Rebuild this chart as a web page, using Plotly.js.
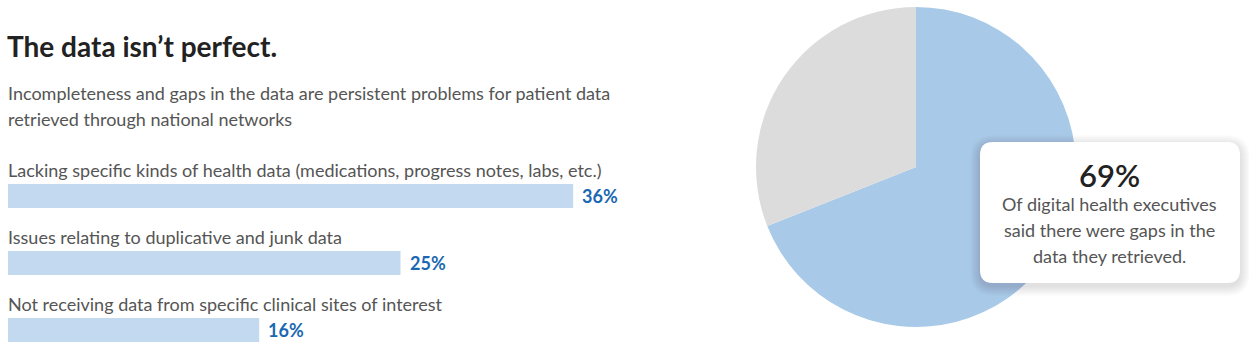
<!DOCTYPE html>
<html>
<head>
<meta charset="utf-8">
<script src="https://cdn.plot.ly/plotly-3.0.1.min.js"></script>
<style>html,body{margin:0;padding:0;background:#fff;}#chart{width:1249px;height:355px;}</style>
</head>
<body>
<div id="chart"></div>
<script>
// ---- data ----
const categories = [
  "Lacking specific kinds of health data (medications, progress notes, labs, etc.)",
  "Issues relating to duplicative and junk data",
  "Not receiving data from specific clinical sites of interest"
];
const barValues = [36, 25, 16];
const barLabels = ["36%", "25%", "16%"];
const pieLabels = ["Gaps in data", "No gaps"];
const pieValues = [69, 31];
const titleText = "The data isn’t perfect.";
const subtitleLines = [
  "Incompleteness and gaps in the data are persistent problems for patient data",
  "retrieved through national networks"
];
const calloutValue = "69%";
const calloutLines = [
  "Of digital health executives",
  "said there were gaps in the",
  "data they retrieved."
];

// ---- layout helpers ----
const W = 1249, H = 355;
const px = x => x / W;
const py = y => 1 - y / H;
const FONT = "Lato, 'Open Sans', sans-serif";

function roundRect(x0, y0, x1, y1, r) {
  const X = v => px(v).toFixed(5), Y = v => py(v).toFixed(5);
  return `M ${X(x0 + r)} ${Y(y0)} L ${X(x1 - r)} ${Y(y0)} Q ${X(x1)} ${Y(y0)} ${X(x1)} ${Y(y0 + r)} ` +
         `L ${X(x1)} ${Y(y1 - r)} Q ${X(x1)} ${Y(y1)} ${X(x1 - r)} ${Y(y1)} ` +
         `L ${X(x0 + r)} ${Y(y1)} Q ${X(x0)} ${Y(y1)} ${X(x0)} ${Y(y1 - r)} ` +
         `L ${X(x0)} ${Y(y0 + r)} Q ${X(x0)} ${Y(y0)} ${X(x0 + r)} ${Y(y0)} Z`;
}

const traces = [
  {
    type: "bar",
    orientation: "h",
    x: barValues,
    y: categories,
    marker: {color: "#c2d9ef"},
    width: 0.36,
    hoverinfo: "none",
    xaxis: "x", yaxis: "y"
  },
  {
    type: "pie",
    labels: pieLabels,
    values: pieValues,
    sort: false,
    direction: "clockwise",
    rotation: 0,
    marker: {colors: ["#a8cae8", "#dcdcdc"], line: {width: 0}},
    textinfo: "none",
    hoverinfo: "none",
    domain: {x: [px(756), px(1076)], y: [py(327), py(7)]}
  }
];

const shapes = [];
// soft shadow layers
for (let i = 10; i >= 1; i--) {
  shapes.push({
    type: "path", xref: "paper", yref: "paper",
    path: roundRect(980 - i, 142 - i + 3, 1240 + i, 283 + i + 3, 13 + i),
    fillcolor: "rgba(0,0,0,0.012)", line: {width: 0}, layer: "above"
  });
}
shapes.push({
  type: "path", xref: "paper", yref: "paper",
  path: roundRect(980, 142, 1240, 283, 13),
  fillcolor: "#ffffff", line: {width: 0}, layer: "above"
});

const annotations = [];
// subtitle
subtitleLines.forEach((t, i) => annotations.push({
  text: t, xref: "paper", yref: "paper", x: px(6), y: py(93 + 26 * i),
  xanchor: "left", yanchor: "middle", showarrow: false,
  font: {family: FONT, size: 18, color: "#555555"}
}));
// bar category labels and value labels
categories.forEach((c, i) => {
  annotations.push({
    text: c, xref: "paper", yref: "y", x: px(6), y: c, yshift: 26,
    xanchor: "left", yanchor: "middle", showarrow: false,
    font: {family: FONT, size: 18, color: "#555555"}
  });
  annotations.push({
    text: "<b>" + barLabels[i] + "</b>", xref: "x", yref: "y", x: barValues[i], y: c, xshift: 7,
    xanchor: "left", yanchor: "middle", showarrow: false,
    font: {family: FONT, size: 18, color: "#1a68b2"}
  });
});
// callout
annotations.push({
  text: calloutValue, xref: "paper", yref: "paper", x: px(1109), y: py(175),
  xanchor: "center", yanchor: "middle", showarrow: false,
  font: {family: FONT, size: 31, color: "#222222", weight: 600}
});
calloutLines.forEach((t, i) => annotations.push({
  text: t, xref: "paper", yref: "paper", x: px(1109), y: py(204 + 26 * i),
  xanchor: "center", yanchor: "middle", showarrow: false,
  font: {family: FONT, size: 18, color: "#555555"}
}));

const layout = {
  width: W, height: H,
  margin: {l: 0, r: 0, t: 0, b: 0},
  paper_bgcolor: "#ffffff", plot_bgcolor: "rgba(0,0,0,0)",
  showlegend: false,
  title: {
    text: "<b>" + titleText + "</b>", x: px(7), xanchor: "left", xref: "paper",
    y: py(47), yanchor: "middle", yref: "paper",
    font: {family: FONT, size: 28, color: "#222222"}
  },
  xaxis: {domain: [px(8), px(636)], range: [0, 40], visible: false, fixedrange: true},
  yaxis: {type: "category", range: [(355 - 196) / 67, -196 / 67], visible: false, fixedrange: true},
  shapes: shapes,
  annotations: annotations
};

Plotly.newPlot("chart", traces, layout, {displayModeBar: false, staticPlot: true});
</script>
</body>
</html>
